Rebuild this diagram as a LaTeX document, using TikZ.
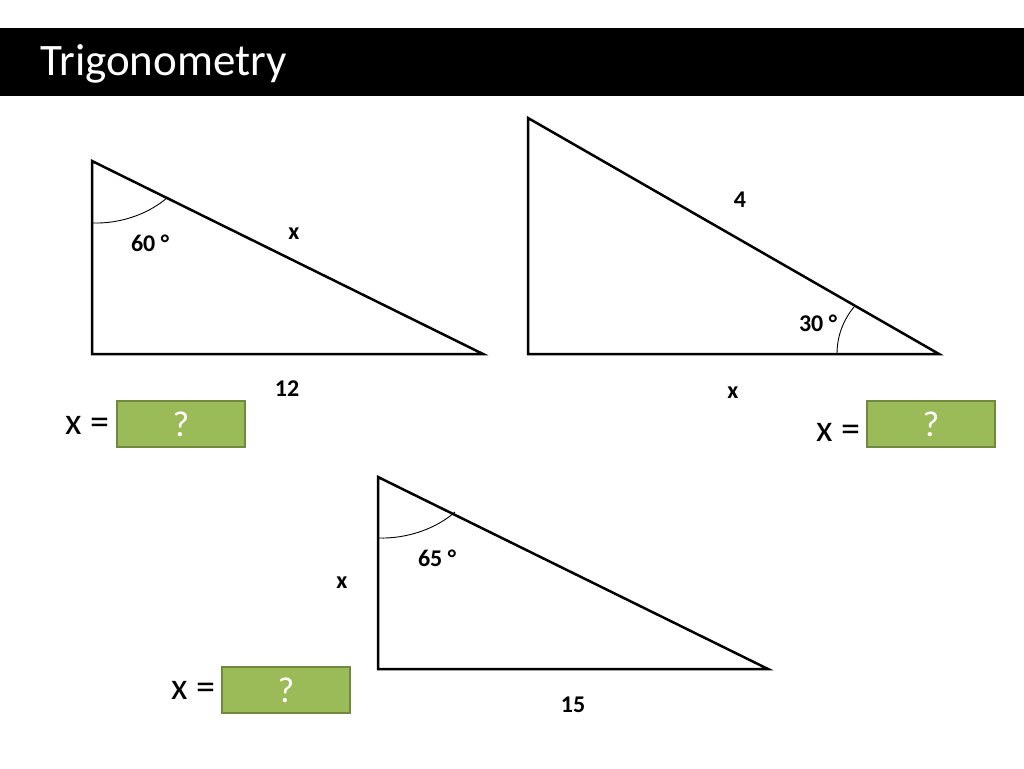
\documentclass[tikz,border=0pt]{standalone}
\usepackage{fontspec}
\setmainfont{Carlito}
\definecolor{boxgreen}{HTML}{9BBB59}
\definecolor{boxedge}{HTML}{71893F}
\tikzset{
  tri/.style={line width=2.5pt, line join=miter},
  anglearc/.style={line width=0.9pt},
  lbl/.style={font=\fontsize{24}{28}\selectfont\bfseries, inner sep=0pt},
  eqlbl/.style={font=\fontsize{38}{42}\selectfont, inner sep=0pt},
  answer/.style={draw=boxedge, line width=2pt, fill=boxgreen, minimum width=128pt, minimum height=46pt, text=white, font=\fontsize{36}{40}\selectfont, inner sep=0pt}
}
\begin{document}
\begin{tikzpicture}[x=1pt,y=-1pt]
\useasboundingbox (0,0) rectangle (1024,768);
% title band
\fill[black] (0,28) rectangle (1024,96);
\node[anchor=base west, text=white, font=\fontsize{45}{50}\selectfont, inner sep=0pt] (title) at (40,75) {Trigonometry};
% triangle 1
\coordinate (a1) at (92,161); \coordinate (b1) at (92,354); \coordinate (c1) at (483,354);
\draw[tri] (a1) -- (b1) -- (c1) -- cycle;
\draw[anglearc] (92,223) .. controls (122,224) and (150,213) .. (168,197);
\node[lbl] (l1x) at (294,234) {x};
\node[lbl] (l1a) at (150,243) {60 °};
\node[lbl] (l1b) at (287,389) {12};
\node[eqlbl] (e1) at (87,425) {x =};
\node[answer] (q1) at (181,424) {?};
% triangle 2
\coordinate (a2) at (528,118); \coordinate (b2) at (528,354); \coordinate (c2) at (939,354);
\draw[tri] (a2) -- (b2) -- (c2) -- cycle;
\draw[anglearc] (837,354) .. controls (837,335) and (844,319) .. (854,307);
\node[lbl] (l2h) at (740,200) {4};
\node[lbl] (l2a) at (818,323) {30 °};
\node[lbl] (l2x) at (733,393) {x};
\node[eqlbl] (e2) at (838,432) {x =};
\node[answer] (q2) at (931,424) {?};
% triangle 3
\coordinate (a3) at (378,477); \coordinate (b3) at (378,669); \coordinate (c3) at (768,669);
\draw[tri] (a3) -- (b3) -- (c3) -- cycle;
\draw[anglearc] (378,538) .. controls (408,539) and (437,528) .. (455,512);
\node[lbl] (l3a) at (437,558) {65 °};
\node[lbl] (l3x) at (342,583) {x};
\node[lbl] (l3b) at (573,705) {15};
\node[eqlbl] (e3) at (193,690) {x =};
\node[answer] (q3) at (286,690) {?};
\end{tikzpicture}
\end{document}
